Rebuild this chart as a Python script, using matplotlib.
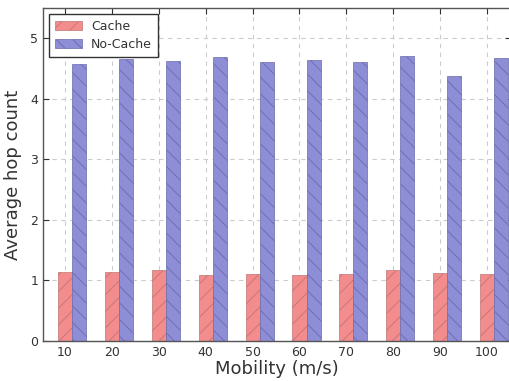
import matplotlib
matplotlib.use("Agg")
import matplotlib.pyplot as plt
import numpy as np

mobility = ["10", "20", "30", "40", "50", "60", "70", "80", "90", "100"]
cache = [1.14, 1.14, 1.17, 1.09, 1.11, 1.09, 1.10, 1.18, 1.13, 1.11]
no_cache = [4.57, 4.65, 4.63, 4.69, 4.60, 4.64, 4.60, 4.70, 4.37, 4.68]

plt.rcParams['font.family'] = ['DejaVu Sans']
plt.rcParams['hatch.linewidth'] = 0.6

fig = plt.figure(figsize=(5.09, 3.81), dpi=100)
ax = fig.add_axes([43/509, 40/381, (510.5-43)/509, 333/381])

x = np.arange(len(mobility))
w = 0.3
ax.bar(x, cache, w, color='#F38C8C', edgecolor='#C07474', linewidth=0.5,
       hatch='//', label='Cache', zorder=2)
ax.bar(x + w, no_cache, w, color='#8E8ED6', edgecolor='#6A6AAE', linewidth=0.5,
       hatch='\\\\', label='No-Cache', zorder=2)

ax.set_xlim(-0.47, 9.5)
ax.set_ylim(0, 5.5)
ax.set_xticks(x)
ax.set_xticklabels(mobility)
ax.set_yticks([0, 1, 2, 3, 4, 5])
ax.tick_params(direction='in', top=True, right=True, labelsize=9, colors='#333333', length=4)
ax.grid(True, linestyle=(0, (4, 4)), color='#cccccc', linewidth=0.8, zorder=0)
ax.set_axisbelow(True)
for s in ax.spines.values():
    s.set_color('#555555')
    s.set_linewidth(1.0)

ax.set_xlabel('Mobility (m/s)', fontsize=13, color='#333333', labelpad=1)
ax.set_ylabel('Average hop count', fontsize=13, color='#333333', labelpad=6)

leg = ax.legend(loc='upper left', fontsize=9, fancybox=False, framealpha=1,
                edgecolor='#333333', borderpad=0.45, handlelength=2.2,
                labelspacing=0.4, borderaxespad=0.5, handletextpad=0.7)
leg.get_frame().set_linewidth(1.0)
for t in leg.get_texts():
    t.set_color('#333333')

fig.savefig('out.png', dpi=100)
